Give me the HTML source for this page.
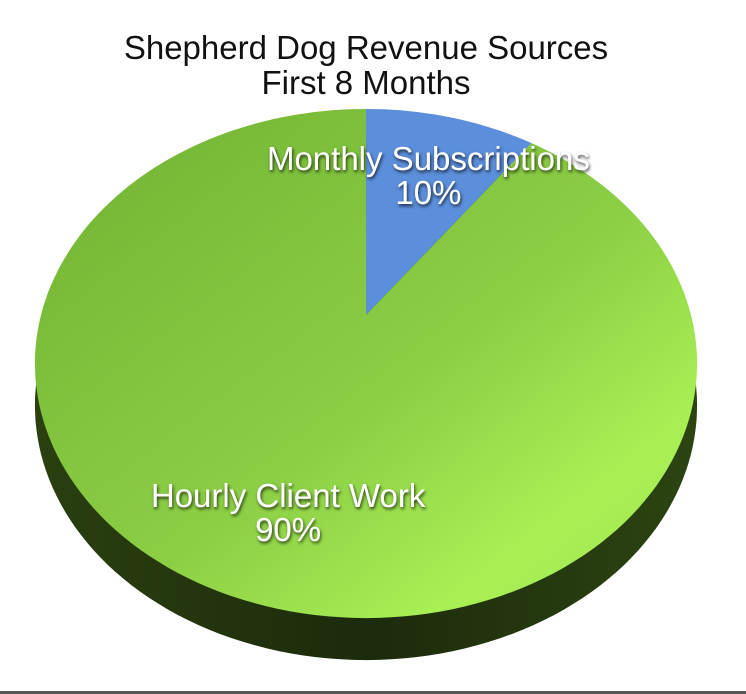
<!DOCTYPE html>
<html><head><meta charset="utf-8"><style>
html,body{margin:0;padding:0;background:#fff;}
svg{display:block;}
text{font-family:"Liberation Sans",Arial,sans-serif;}
</style></head><body>
<svg id="chart" width="746" height="694" viewBox="0 0 746 694">
<defs>
<linearGradient id="gTop" x1="0" y1="0" x2="1" y2="1">
<stop offset="0" stop-color="#70b232"/><stop offset="0.55" stop-color="#8ccf45"/><stop offset="0.8" stop-color="#a9f055"/><stop offset="1" stop-color="#9ee04e"/>
</linearGradient>
<linearGradient id="gSide" x1="0" y1="0" x2="1" y2="0">
<stop offset="0" stop-color="#2a4010"/><stop offset="0.5" stop-color="#1c2b0b"/><stop offset="1" stop-color="#2c4412"/>
</linearGradient>
<filter id="sh" x="-10%" y="-30%" width="120%" height="160%"><feDropShadow dx="1" dy="2" stdDeviation="1.5" flood-color="#000" flood-opacity="0.75"/></filter>
</defs>
<text x="366" y="59" font-size="33" text-anchor="middle" fill="#111">Shepherd Dog Revenue Sources</text>
<text x="366" y="94" font-size="33" text-anchor="middle" fill="#111">First 8 Months</text>
<g id="pie"></g>
<rect x="0" y="691" width="746" height="3" fill="#555"/>
</svg>
<script>
const categories = ["Monthly Subscriptions", "Hourly Client Work"];
const values = [10, 90];
const labels = ["10%", "90%"];

const NS = "http://www.w3.org/2000/svg";
const pie = document.getElementById("pie");
const CX = 366, CY = 315, RX = 325, A = 245.3, B = -0.1906, DEPTH = 42;
function proj(theta, r, dy) {
  const u = Math.sin(theta) * r, v = -Math.cos(theta) * r;
  const d = 1 + B * v;
  return [CX + RX * u / d, CY + A * v / d + (dy || 0)];
}
function ring(dy) {
  const pts = [];
  for (let i = 0; i <= 200; i++) pts.push(proj(i / 200 * Math.PI * 2, 1, dy));
  return pts;
}
function ptsStr(p) { return p.map(q => q[0].toFixed(1) + "," + q[1].toFixed(1)).join(" "); }
const botRing = ring(DEPTH);
const side = document.createElementNS(NS, "polygon");


side.setAttribute("points", ptsStr(botRing));
side.setAttribute("fill", "url(#gSide)");
pie.appendChild(side);
const total = values.reduce((a, b) => a + b, 0);
const colors = ["#5b8edb", "url(#gTop)"];
let start = 0;
const mids = [];
values.forEach((v, i) => {
  const a0 = start / total * Math.PI * 2, a1 = (start + v) / total * Math.PI * 2;
  const pts = [[CX, CY]];
  const n = Math.max(4, Math.ceil(v * 2));
  for (let k = 0; k <= n; k++) pts.push(proj(a0 + (a1 - a0) * k / n, 1, 0));
  const p = document.createElementNS(NS, "polygon");
  
  
  p.setAttribute("points", ptsStr(pts));
  p.setAttribute("fill", colors[i]);
  pie.appendChild(p);
  mids.push((a0 + a1) / 2);
  start += v;
});
const labelPos = [[0.7, 0], [0.68, 11]];
mids.forEach((m, i) => {
  const c = proj(m, labelPos[i][0], labelPos[i][1]);
  const g = document.createElementNS(NS, "g");
  g.setAttribute("filter", "url(#sh)");
  const t1 = document.createElementNS(NS, "text");
  
  
  t1.setAttribute("x", c[0]); t1.setAttribute("y", c[1]);
  t1.setAttribute("font-size", "33"); t1.setAttribute("fill", "#fff"); t1.setAttribute("text-anchor", "middle");
  t1.textContent = categories[i];
  const t2 = document.createElementNS(NS, "text");
  
  
  t2.setAttribute("x", c[0]); t2.setAttribute("y", c[1] + 34);
  t2.setAttribute("font-size", "33"); t2.setAttribute("fill", "#fff"); t2.setAttribute("text-anchor", "middle");
  t2.textContent = labels[i];
  g.appendChild(t1); g.appendChild(t2);
  pie.appendChild(g);
});
</script>
</body></html>
